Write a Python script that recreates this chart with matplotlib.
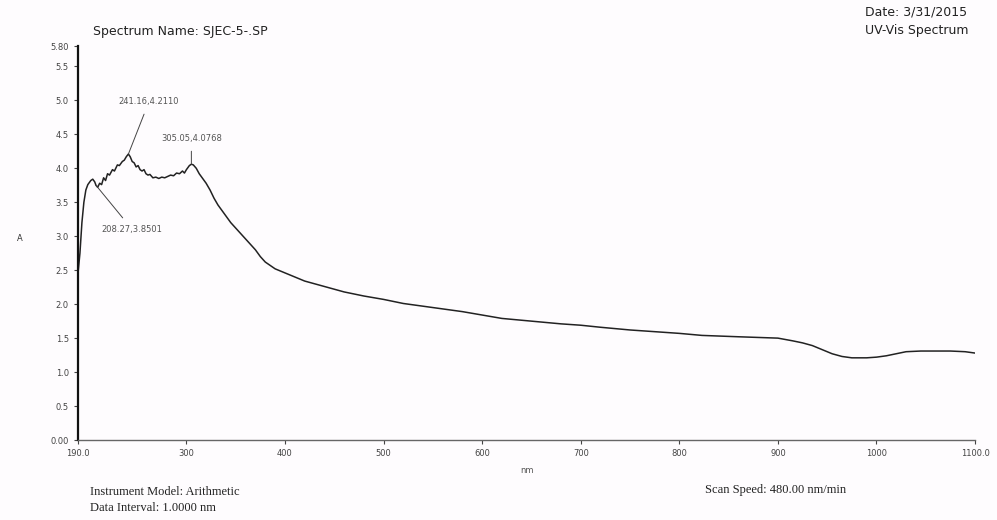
import matplotlib.pyplot as plt
import numpy as np

# wavelength (nm) and absorbance
wl = [190, 192, 194, 196, 198, 200, 203, 205, 207, 208.27, 210, 212, 214, 216, 218,
      220, 222, 225, 227, 230, 232, 235, 237, 239, 241.16, 243, 245, 247, 249, 251,
      253, 255, 257, 259, 261, 263, 266, 269, 272, 275, 278, 281, 284, 287, 290,
      293, 296, 298, 300, 303, 305.05, 307, 310, 313, 316, 320, 324, 328, 332, 336,
      340, 345, 350, 355, 360, 365, 370, 375, 380, 390, 400, 420, 440, 460, 480,
      500, 520, 550, 580, 600, 620, 650, 680, 700, 720, 750, 780, 800, 823, 860,
      900, 915, 925, 935, 945, 955, 965, 975, 990, 1000, 1010, 1020, 1030, 1045,
      1060, 1075, 1090, 1100]
absb = [2.45, 2.75, 3.20, 3.50, 3.68, 3.76, 3.82, 3.84, 3.80, 3.75, 3.72, 3.78, 3.76, 3.86, 3.82,
        3.92, 3.90, 3.98, 3.96, 4.05, 4.04, 4.10, 4.12, 4.17, 4.21, 4.17, 4.10, 4.08, 4.02, 4.04,
        3.98, 3.96, 3.98, 3.92, 3.90, 3.91, 3.86, 3.87, 3.85, 3.87, 3.86, 3.88, 3.90, 3.89, 3.93,
        3.92, 3.96, 3.93, 3.98, 4.04, 4.06, 4.05, 4.00, 3.92, 3.86, 3.78, 3.68, 3.56, 3.46, 3.38,
        3.30, 3.20, 3.12, 3.04, 2.96, 2.88, 2.80, 2.70, 2.62, 2.52, 2.46, 2.34, 2.26, 2.18, 2.12,
        2.07, 2.01, 1.95, 1.89, 1.84, 1.79, 1.75, 1.71, 1.69, 1.66, 1.62, 1.59, 1.57, 1.54, 1.52,
        1.50, 1.46, 1.43, 1.39, 1.33, 1.27, 1.23, 1.21, 1.21, 1.22, 1.24, 1.27, 1.30, 1.31,
        1.31, 1.31, 1.30, 1.28]

yticks = [0.0, 0.5, 1.0, 1.5, 2.0, 2.5, 3.0, 3.5, 4.0, 4.5, 5.0, 5.5, 5.8]
ylabels = ['0.00', '0.5', '1.0', '1.5', '2.0', '2.5', '3.0', '3.5', '4.0', '4.5', '5.0', '5.5', '5.80']
xticks = [190, 300, 400, 500, 600, 700, 800, 900, 1000, 1100]
xlabels = ['190.0', '300', '400', '500', '600', '700', '800', '900', '1000', '1100.0']

peaks = [(241.16, 4.21, '241.16,4.2110'), (305.05, 4.06, '305.05,4.0768'), (208.27, 3.75, '208.27,3.8501')]
text_pos = [(262, 4.98), (305, 4.44), (245, 3.10)]

fig = plt.figure(figsize=(9.97, 5.2), dpi=100)
fig.patch.set_facecolor('#fefcfe')
ax = fig.add_axes([0.0782, 0.1538, 0.8998, 0.7577])
ax.set_facecolor('none')

ax.plot(wl, absb, color='#222222', lw=1.1)

ax.set_xlim(190, 1100)
ax.set_ylim(0, 5.8)
ax.set_xticks(xticks)
ax.set_xticklabels(xlabels)
ax.set_yticks(yticks)
ax.set_yticklabels(ylabels)
ax.tick_params(labelsize=6, colors='#444444', length=3, width=0.8)
ax.spines['top'].set_visible(False)
ax.spines['right'].set_visible(False)
ax.spines['left'].set_linewidth(1.6)
ax.spines['left'].set_color('#111111')
ax.spines['bottom'].set_linewidth(1.0)
ax.spines['bottom'].set_color('#666666')

ax.set_xlabel('nm', fontsize=6, color='#555555', labelpad=6)
ax.set_ylabel('A', fontsize=6, color='#333333', rotation=0, labelpad=22)

for (px, py, lab), (tx, ty) in zip(peaks, text_pos):
    ax.annotate(lab, xy=(px, py), xytext=(tx, ty), fontsize=6, color='#555555',
                ha='center', va='center',
                arrowprops=dict(arrowstyle='-', color='#444444', lw=0.7, shrinkA=4, shrinkB=0))

fig.text(0.093, 0.94, 'Spectrum Name: SJEC-5-.SP', fontsize=9, color='#222222', va='center')
fig.text(0.868, 0.977, 'Date: 3/31/2015', fontsize=9, color='#222222', va='center')
fig.text(0.868, 0.942, 'UV-Vis Spectrum', fontsize=9, color='#222222', va='center')
fig.text(0.090, 0.054, 'Instrument Model: Arithmetic', fontsize=9, color='#222222',
         family='Liberation Serif', va='center')
fig.text(0.090, 0.023, 'Data Interval: 1.0000 nm', fontsize=9, color='#222222',
         family='Liberation Serif', va='center')
fig.text(0.707, 0.058, 'Scan Speed: 480.00 nm/min', fontsize=9, color='#222222',
         family='Liberation Serif', va='center')

fig.savefig('out.png', dpi=100, facecolor=fig.get_facecolor())
